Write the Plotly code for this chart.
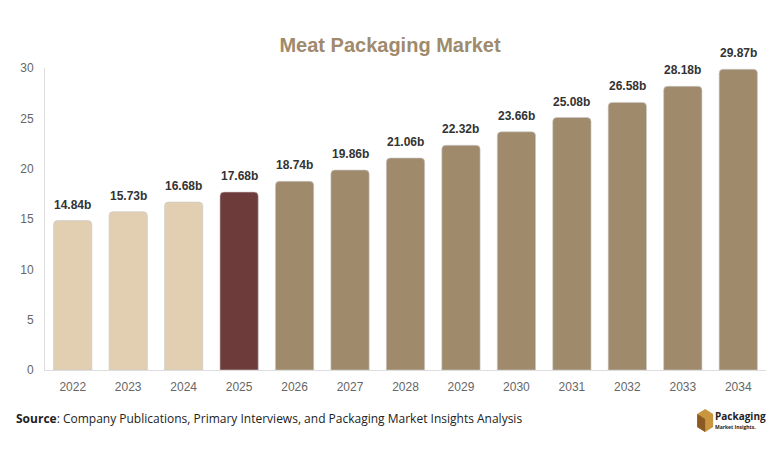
import plotly.graph_objects as go

years = ["2022", "2023", "2024", "2025", "2026", "2027", "2028",
         "2029", "2030", "2031", "2032", "2033", "2034"]
market_size = [14.84, 15.73, 16.68, 17.68, 18.74, 19.86, 21.06,
               22.32, 23.66, 25.08, 26.58, 28.18, 29.87]
value_labels = [f"{v:.2f}b" for v in market_size]

LIGHT = "#e2cfb2"
DARK = "#6e3b3b"
BROWN = "#a08a6c"
bar_colors = [LIGHT] * 3 + [DARK] + [BROWN] * 9

# page body has an 8px margin, so the figure is drawn 8px in from the window corner
OFF = 8
W, H = 782 - OFF, 457 - OFF
L, R, T, B = 43 - OFF, 16, 68 - OFF, 87


def px(x):
    return (x - OFF - L) / (W - L - R)


def py(y):
    return (H - B - (y - OFF)) / (H - T - B)


fig = go.Figure()
fig.add_trace(go.Bar(
    x=years, y=market_size,
    marker=dict(color=bar_colors, line=dict(color="rgba(200,200,200,0.6)", width=1),
                cornerradius=4),
    hoverinfo="skip",
))

# value labels sit a bit higher above the bars than plotly's "outside" text
# (numeric-looking category names get read as indices, so place by index)
label_notes = [
    dict(x=i, y=v, text=f"<b>{lab}</b>", xref="x", yref="y", showarrow=False,
         yanchor="middle", yshift=16,
         font=dict(family="Liberation Sans, Arial", size=12, color="#333333"))
    for i, (v, lab) in enumerate(zip(market_size, value_labels))
]

# logo: little box
shapes = [
    dict(type="path", xref="paper", yref="paper",
         path=f"M {px(697)} {py(414)} L {px(705)} {py(409)} L {px(713)} {py(414)} "
              f"L {px(713)} {py(427)} L {px(705)} {py(432)} L {px(697)} {py(427)} Z",
         fillcolor="#c9963f", line=dict(width=0)),
    dict(type="path", xref="paper", yref="paper",
         path=f"M {px(697)} {py(414)} L {px(705)} {py(419)} L {px(705)} {py(432)} "
              f"L {px(697)} {py(427)} Z",
         fillcolor="#8a5a22", line=dict(width=0)),
]

fig.update_layout(
    width=W, height=H,
    margin=dict(l=L, r=R, t=T, b=B),
    paper_bgcolor="white", plot_bgcolor="white",
    showlegend=False,
    bargap=0.31,
    title=dict(text="<b>Meat Packaging Market</b>", x=px(389), xref="paper", xanchor="center",
               y=1 - (45 - OFF) / H, yanchor="middle",
               font=dict(family="Liberation Sans, Arial", size=20, color=BROWN)),
    xaxis=dict(type="category", showgrid=False, showline=True, linecolor="#dddddd", linewidth=1,
               ticks="", tickfont=dict(family="Liberation Sans, Arial", size=12, color="#666666"),
               ticklabelstandoff=6),
    yaxis=dict(range=[0, 30], dtick=5, showgrid=False, zeroline=False,
               showline=True, linecolor="#dddddd", linewidth=1, ticks="",
               tickfont=dict(family="Liberation Sans, Arial", size=12, color="#666666"),
               ticklabelstandoff=8),
    shapes=shapes,
    annotations=label_notes + [
        dict(text="<b>Source</b>: Company Publications, Primary Interviews, and Packaging Market Insights Analysis",
             xref="paper", yref="paper", x=px(12), y=py(418), xanchor="left", yanchor="middle",
             showarrow=False, font=dict(family="Open Sans", size=12, color="#222222")),
        dict(text="<b>Packaging</b>", xref="paper", yref="paper", x=px(713), y=py(416),
             xanchor="left", yanchor="middle", showarrow=False,
             font=dict(family="Open Sans", size=10, color="#222222")),
        dict(text="<b>Market Insights.</b>", xref="paper", yref="paper", x=px(713), y=py(427),
             xanchor="left", yanchor="middle", showarrow=False,
             font=dict(family="Open Sans", size=5, color="#222222")),
    ],
)

fig.write_html("out.html")
